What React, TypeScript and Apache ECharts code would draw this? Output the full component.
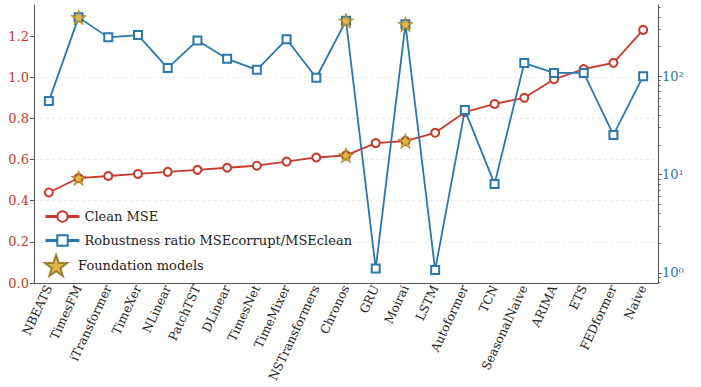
import React, { useEffect, useRef } from "react";
import * as echarts from "echarts";

const models = [
  "NBEATS", "TimesFM", "iTransformer", "TimeXer", "NLinear", "PatchTST", "DLinear",
  "TimesNet", "TimeMixer", "NSTransformers", "Chronos", "GRU", "Moirai", "LSTM",
  "Autoformer", "TCN", "SeasonalNaive", "ARIMA", "ETS", "FEDformer", "Naive",
];
const cleanMse = [
  0.44, 0.51, 0.52, 0.53, 0.54, 0.55, 0.56, 0.57, 0.59, 0.61, 0.62,
  0.68, 0.69, 0.73, 0.83, 0.87, 0.9, 0.99, 1.04, 1.07, 1.23,
];
const robustness = [
  55.8, 396, 248, 262, 121, 231, 150, 116, 237, 96.4, 366,
  1.11, 337, 1.07, 45.2, 8.04, 136, 108, 108, 25.3, 100,
];
const foundationModels = ["TimesFM", "Chronos", "Moirai"];
const leftTicks = [0, 0.2, 0.4, 0.6, 0.8, 1.0, 1.2];
const rightMajorTicks = [1, 10, 100];
const rightMinorTicks = [0.8, 0.9, 2, 3, 4, 5, 6, 7, 8, 9, 20, 30, 40, 50, 60, 70, 80, 90, 200, 300, 400, 500];

const RED = "#c9392b";
const BLUE = "#2a77ad";
const GOLD = "#daa520";
const GOLD_EDGE = "#8a6a10";
const FONT = "DejaVu Serif";
const STAR =
  "path://M50,0 L61.8,35.1 L98.1,35.1 L68.8,56.8 L79.4,91 L50,70 L20.6,91 L31.2,56.8 L1.9,35.1 L38.2,35.1 Z";
const SUP: Record<string, string> = { "0": "\u2070", "1": "\u00b9", "2": "\u00b2", "3": "\u00b3" };

export default function App() {
  const ref = useRef<HTMLDivElement>(null);

  useEffect(() => {
    document.body.style.margin = "0";
    if (!ref.current) return;
    const chart = echarts.init(ref.current, undefined, { renderer: "svg" });

    const starPoints = (values: number[]) =>
      models.map((m, i) => (foundationModels.includes(m) ? values[i] : null));

    const logRange = { min: 0.791, max: 529 };

    chart.setOption({
      animation: false,
      backgroundColor: "#fff",
      grid: {
        left: 34,
        right: 43,
        top: 5,
        bottom: 104,
        containLabel: false,
        outerBoundsMode: "none",
      },
      legend: [
        {
          data: ["Clean MSE", "Robustness ratio MSEcorrupt/MSEclean"],
          orient: "vertical",
          left: 39,
          top: 205,
          itemWidth: 34,
          itemHeight: 13,
          itemGap: 11,
          lineStyle: { width: 3 },
          itemStyle: { borderWidth: 2.2 },
          textStyle: { fontFamily: FONT, fontSize: 13, color: "#222" },
        },
        {
          data: [{ name: "Foundation models", icon: STAR }],
          orient: "vertical",
          left: 39,
          top: 249,
          itemWidth: 34,
          itemHeight: 21,
          textStyle: { fontFamily: FONT, fontSize: 13, color: "#222" },
        },
      ],
      xAxis: {
        type: "category",
        data: models,
        boundaryGap: true,
        axisLine: { lineStyle: { color: "#555", width: 1 } },
        axisTick: { alignWithLabel: true, length: 4, lineStyle: { color: "#555" } },
        axisLabel: {
          rotate: 65,
          margin: 3,
          interval: 0,
          fontFamily: FONT,
          fontSize: 12.3,
          color: "#222",
        },
      },
      yAxis: [
        {
          type: "value",
          min: 0,
          max: 1.351,
          interval: 0.2,
          position: "left",
          axisLine: { show: true, lineStyle: { color: "#555" } },
          axisTick: { show: true, length: 4, customValues: leftTicks, lineStyle: { color: "#555" } },
          axisLabel: {
            customValues: leftTicks,
            formatter: (v: number) => v.toFixed(1),
            fontFamily: FONT,
            fontSize: 13,
            color: RED,
            margin: 5,
          },
          splitLine: {
            show: true,
            showMaxLine: false,
            showMinLine: false,
            lineStyle: { color: "#e4e4e4", type: [3, 3], width: 0.8 },
          },
        },
        {
          type: "log",
          logBase: 10,
          ...logRange,
          position: "right",
          axisLine: { show: true, lineStyle: { color: "#555" } },
          axisTick: { show: true, length: 4, customValues: rightMajorTicks, lineStyle: { color: "#555" } },
          axisLabel: {
            customValues: rightMajorTicks,
            formatter: (v: number) => {
              const e = String(Math.round(Math.log10(v)));
              return "10" + e.split("").map((c) => SUP[c] ?? c).join("");
            },
            fontFamily: FONT,
            fontSize: 13,
            color: BLUE,
            margin: 4,
          },
          splitLine: { show: false },
        },
        {
          type: "log",
          logBase: 10,
          ...logRange,
          position: "right",
          axisLine: { show: false },
          axisTick: { show: true, length: 2.5, customValues: rightMinorTicks, lineStyle: { color: "#555" } },
          axisLabel: { show: false },
          splitLine: { show: false },
        },
      ],
      series: [
        {
          name: "Clean MSE",
          type: "line",
          yAxisIndex: 0,
          data: cleanMse,
          symbol: "emptyCircle",
          symbolSize: 8,
          color: RED,
          lineStyle: { color: RED, width: 1.8 },
          itemStyle: { color: RED, borderWidth: 1.4 },
          z: 2,
        },
        {
          name: "Robustness ratio MSEcorrupt/MSEclean",
          type: "line",
          yAxisIndex: 1,
          data: robustness,
          symbol: "emptyRect",
          symbolSize: 8,
          color: BLUE,
          lineStyle: { color: BLUE, width: 1.8 },
          itemStyle: { color: BLUE, borderWidth: 1.4 },
          z: 3,
        },
        {
          name: "Foundation models",
          type: "scatter",
          yAxisIndex: 0,
          data: starPoints(cleanMse),
          symbol: STAR,
          symbolSize: 15,
          itemStyle: { color: GOLD, borderColor: GOLD_EDGE, borderWidth: 0.8 },
          z: 5,
        },
        {
          name: "Foundation models",
          type: "scatter",
          yAxisIndex: 1,
          data: starPoints(robustness),
          symbol: STAR,
          symbolSize: 15,
          itemStyle: { color: GOLD, borderColor: GOLD_EDGE, borderWidth: 0.8 },
          z: 5,
        },
      ],
    });

    return () => chart.dispose();
  }, []);

  return <div ref={ref} style={{ width: 701, height: 387 }} />;
}
